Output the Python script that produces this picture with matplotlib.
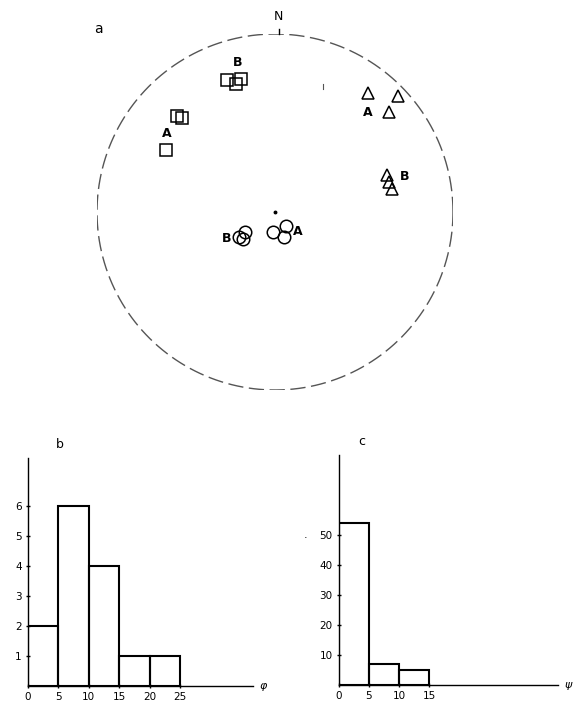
import matplotlib
matplotlib.use("Agg")
import matplotlib.pyplot as plt
import numpy as np

# ---------------- data ----------------
# stereonet points, unit-circle coordinates (x east, y north)
sq_A_x = [-0.55, -0.52, -0.61]
sq_A_y = [0.54, 0.53, 0.35]
sq_B_x = [-0.27, -0.19, -0.22]
sq_B_y = [0.74, 0.75, 0.72]
tri_A_x = [0.52, 0.69, 0.64]
tri_A_y = [0.67, 0.65, 0.56]
tri_B_x = [0.63, 0.64, 0.66]
tri_B_y = [0.21, 0.17, 0.13]
circ_A_x = [-0.01, 0.06, 0.05]
circ_A_y = [-0.11, -0.08, -0.14]
circ_B_x = [-0.17, -0.18, -0.20]
circ_B_y = [-0.11, -0.15, -0.14]

# histogram b
b_edges = [0, 5, 10, 15, 20]
b_counts = [2, 6, 4, 1, 1]
b_xticks = [0, 5, 10, 15, 20, 25]
b_yticks = [1, 2, 3, 4, 5, 6]

# histogram c
c_edges = [0, 5, 10]
c_counts = [54, 7, 5]
c_xticks = [0, 5, 10, 15]
c_yticks = [10, 20, 30, 40, 50]

W, H = 576, 705
fig = plt.figure(figsize=(W / 100, H / 100), dpi=100)
fig.patch.set_facecolor("white")


def add_ax(l, t, r, b):
    return fig.add_axes([l / W, 1 - b / H, (r - l) / W, (b - t) / H])


# ---------------- stereonet ----------------
ax = add_ax(97, 34, 453, 390)
ax.set_xlim(-1, 1)
ax.set_ylim(-1, 1)
ax.axis("off")
th = np.linspace(0, 2 * np.pi, 600)
ax.plot(np.cos(th), np.sin(th), color="#555555", lw=1.0, dashes=(11, 4))
ax.plot([0.02, 0.02], [1.0, 1.03], color="black", lw=1, clip_on=False)
ax.text(0.02, 1.06, "N", ha="center", va="bottom", fontsize=9)
ax.text(-0.99, 1.03, "a", ha="center", va="center", fontsize=10)
ax.plot([0.27, 0.27], [0.69, 0.72], color="#555555", lw=0.8)
ax.plot([0.0], [0.0], marker="o", ms=1.8, color="black")

mk = dict(mfc="none", mec="black", mew=1.1, ls="none")
ax.plot(sq_A_x, sq_A_y, marker="s", ms=8.5, **mk)
ax.plot(sq_B_x, sq_B_y, marker="s", ms=8.5, **mk)
ax.plot(tri_A_x, tri_A_y, marker="^", ms=9, **mk)
ax.plot(tri_B_x, tri_B_y, marker="^", ms=8, **mk)
ax.plot(circ_A_x, circ_A_y, marker="o", ms=9, **mk)
ax.plot(circ_B_x, circ_B_y, marker="o", ms=9, **mk)

lab = dict(fontsize=9, fontweight="semibold", ha="center", va="center")
ax.text(-0.61, 0.44, "A", **lab)
ax.text(-0.21, 0.84, "B", **lab)
ax.text(0.52, 0.56, "A", **lab)
ax.text(0.73, 0.20, "B", **lab)
ax.text(0.13, -0.11, "A", **lab)
ax.text(-0.27, -0.15, "B", **lab)

# ---------------- histograms ----------------
def hist_ax(axh, edges, counts, xt, yt, xmax, ymax, sym, letter, letter_x):
    axh.set_xlim(0, xmax)
    axh.set_ylim(0, ymax)
    axh.bar(edges, counts, width=5, align="edge", fill=False,
            edgecolor="black", lw=1.5)
    for s in ("top", "right"):
        axh.spines[s].set_visible(False)
    for s in ("left", "bottom"):
        axh.spines[s].set_linewidth(1.0)
    axh.set_xticks(xt)
    axh.set_yticks(yt)
    axh.tick_params(axis="both", labelsize=7.5, length=3, width=1,
                    direction="inout", pad=3)
    axh.set_facecolor("none")
    axh.text(xmax * 1.03, 0, sym, ha="left", va="center", fontsize=8,
             style="italic")
    axh.text(letter_x, ymax * 1.03, letter, ha="center", va="bottom",
             fontsize=9)


axb = add_ax(28, 458, 253, 686)
hist_ax(axb, b_edges, b_counts, b_xticks, b_yticks, 37, 7.6, "φ", "b", 5.2)

axc = add_ax(339, 455, 558, 685)
hist_ax(axc, c_edges, c_counts, c_xticks, c_yticks, 36.5, 76.7, "ψ", "c", 3.8)
axc.text(-5.5, 50, ".", ha="center", va="center", fontsize=8)

fig.savefig("out.png", dpi=100, facecolor="white")
